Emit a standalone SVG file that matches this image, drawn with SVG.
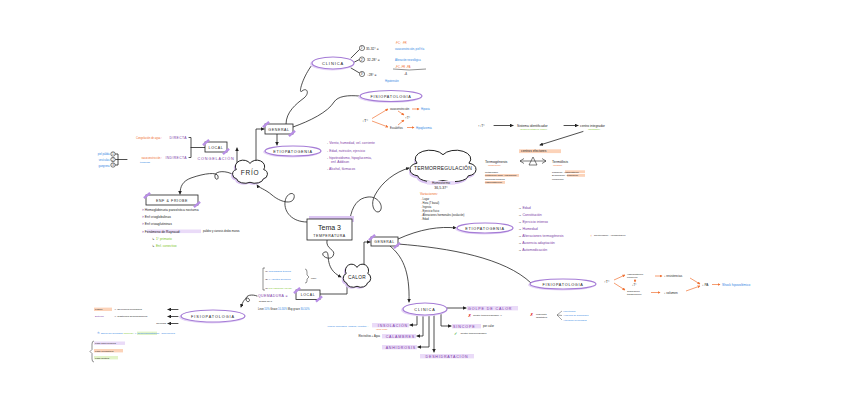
<svg xmlns="http://www.w3.org/2000/svg" width="848" height="402" viewBox="0 0 848 402">
<defs>
<style>
text{font-family:"Liberation Sans",Arial,sans-serif;fill:#222}
.s{font-size:3.3px}
.xs{font-size:2.6px}
.m{font-size:3.8px}
.lab{font-size:4px;letter-spacing:.9px}
.pu{fill:#7b3aa6}
.or{fill:#ef6b2a}
.bl{fill:#2b7fe3}
.gr{fill:#79c51c}
.rd{fill:#e0262b}
.c{text-anchor:middle}
.e{text-anchor:end}
.conn{fill:none;stroke:#222;stroke-width:.8;stroke-linecap:round}
.oc{fill:none;stroke:#f07234;stroke-width:.7}
.oval{fill:#fff;stroke:#a57cd6;stroke-width:1.2}
.ovs{fill:#e6d6f7}
.box{fill:#fff;stroke:#222;stroke-width:.8}
.tape{fill:#b88ee6}
.hlo{fill:#fcd3b9}
.hlp{fill:#eadbf8}
.hlg{fill:#e2f4c8}
.cloud{fill:#fff;stroke:#222;stroke-width:1}
.cls{fill:#d9c2f2}
</style>
<marker id="ah" viewBox="0 0 6 6" refX="5" refY="3" markerUnits="userSpaceOnUse" markerWidth="3.6" markerHeight="3.6" orient="auto-start-reverse"><path d="M0,0 L6,3 L0,6 Z" fill="#222"/></marker>
<marker id="aho" viewBox="0 0 6 6" refX="5" refY="3" markerUnits="userSpaceOnUse" markerWidth="3" markerHeight="3" orient="auto"><path d="M0,0 L6,3 L0,6 Z" fill="#f07234"/></marker>
</defs>
<rect width="848" height="402" fill="#fff"/>

<g id="connectors">
<path class="conn" marker-end="url(#ah)" d="M307,222 C292,222 284,212 285,202 C286,192 296,191 294,198 C292,205 280,202 272,195 C265,189 259,188 257,185"/>
<path class="conn" marker-end="url(#ah)" d="M350,219 C352,206 358,198 368,197 C378,196 384,206 380,211 C376,215 369,206 375,195 C382,182 395,172 409,168"/>
<path class="conn" marker-end="url(#ah)" d="M327,240 C325,250 337,249 333,256 C329,262 318,254 325,252 C332,250 322,268 341,277"/>
<path class="conn" marker-end="url(#ah)" d="M364,265 V242 H370"/>
<path class="conn" marker-end="url(#ah)" d="M398,239 C420,229 440,226 456,228"/>
<path class="conn" d="M398,244 C450,248 505,258 531,283"/>
<path class="conn" marker-end="url(#ah)" d="M390,246 C402,256 410,270 409,302"/>
<path class="conn" d="M347,286 V294 H320"/>
<path class="conn" marker-end="url(#ah)" d="M257,296 C252,294 246,295 246,299 C246,303 251,302 249,299 C247,296 243,300 241,307"/>
<path class="conn" marker-end="url(#ah)" d="M256,163 V129 H264"/>
<path class="conn" marker-end="url(#ah)" d="M237,165 V148"/>
<path class="conn" marker-end="url(#ah)" d="M234,175 C226,170 216,171 215,175 C214,180 219,181 218,176 C217,172 205,173 191,178 C183,181 180,186 180,194"/>
<path class="conn" d="M286,124 C286,112 296,104 304,98 C310,93 307,87 302,91 C298,95 302,78 312,65"/>
<path class="conn" d="M293,127 C310,121 328,112 334,102 C338,96 348,95 359,96"/>
<path class="conn" marker-end="url(#ah)" d="M277,134 V145"/>
<path class="conn" d="M189,137.5 H191 V157.5 H189 M191,147.5 H205"/>
<path class="conn" d="M115.5,154 H118 V165 H115.5 M115.5,159.5 H127"/>
<path class="conn" d="M351,58 L359.5,49.5 M354.5,62 L359.5,59.5 M351,68 L359.5,73"/>
<path class="conn" marker-end="url(#ah)" d="M447,308 H466"/>
<path class="conn" marker-end="url(#ah)" d="M441,314 V326 H451"/>
<path class="conn" marker-end="url(#ah)" d="M417,315 V325 H410"/>
<path class="conn" marker-end="url(#ah)" d="M423,315 V336 H417"/>
<path class="conn" marker-end="url(#ah)" d="M429,315 V347 H418"/>
<path class="conn" marker-end="url(#ah)" d="M434,315 V352"/>
</g>

<g id="tema">
<rect x="309" y="216" width="45" height="6" fill="#dcc6f3"/>
<rect class="box" x="307" y="219" width="45" height="21"/>
<text x="329.5" y="229.5" class="c" style="font-size:7px">Tema 3</text>
<text x="329.5" y="236.5" class="c" style="font-size:3.6px;letter-spacing:.5px">TEMPERATURA</text>
</g>

<g id="frio">
<path class="cls" vector-effect="non-scaling-stroke" transform="translate(229.5,161.5) scale(0.38,0.343)" d="M15,55 A14,14 0 0 1 14,28 A20,18 0 0 1 50,10 A20,18 0 0 1 86,28 A14,14 0 0 1 85,55 A22,14 0 0 1 50,65 A22,14 0 0 1 15,55 Z"/>
<path class="cloud" vector-effect="non-scaling-stroke" transform="translate(231,160) scale(0.38,0.343)" d="M15,55 A14,14 0 0 1 14,28 A20,18 0 0 1 50,10 A20,18 0 0 1 86,28 A14,14 0 0 1 85,55 A22,14 0 0 1 50,65 A22,14 0 0 1 15,55 Z"/>
<text x="250" y="175" class="c" style="font-size:6.5px;letter-spacing:.8px">FRÍO</text>
</g>

<g id="termorregulacion">
<path class="cls" vector-effect="non-scaling-stroke" transform="translate(406,152.5) scale(0.72,0.47)" d="M15,55 A14,14 0 0 1 14,28 A20,18 0 0 1 50,10 A20,18 0 0 1 86,28 A14,14 0 0 1 85,55 A22,14 0 0 1 50,65 A22,14 0 0 1 15,55 Z"/>
<path class="cloud" vector-effect="non-scaling-stroke" transform="translate(407,150) scale(0.72,0.47)" d="M15,55 A14,14 0 0 1 14,28 A20,18 0 0 1 50,10 A20,18 0 0 1 86,28 A14,14 0 0 1 85,55 A22,14 0 0 1 50,65 A22,14 0 0 1 15,55 Z"/>
<text x="443" y="170" class="c" style="font-size:5px;letter-spacing:.2px">TERMORREGULACIÓN</text>
<rect class="hlp" x="427" y="181" width="28" height="3.6"/>
<text x="441" y="184" class="c" style="font-size:3.1px">Homeotermo</text>
<text x="441" y="189" class="c" style="font-size:3.5px">36,5-37°</text>
<text x="420" y="194.5" class="s or">Variaciones:</text>
<g class="xs">
<text x="421" y="199.5"><tspan class="or">- </tspan>Lugar</text>
<text x="421" y="203.5"><tspan class="or">- </tspan>Hora (T basal)</text>
<text x="421" y="207.5"><tspan class="or">- </tspan>Ingesta</text>
<text x="421" y="211.5"><tspan class="or">- </tspan>Ejercicio físico</text>
<text x="421" y="215.5"><tspan class="or">- </tspan>Alteraciones hormonales (ovulación)</text>
<text x="421" y="219.5"><tspan class="or">- </tspan>Edad</text>
</g>
</g>

<g id="calor">
<path class="cls" vector-effect="non-scaling-stroke" transform="translate(340.5,265.5) scale(0.30,0.343)" d="M15,55 A14,14 0 0 1 14,28 A20,18 0 0 1 50,10 A20,18 0 0 1 86,28 A14,14 0 0 1 85,55 A22,14 0 0 1 50,65 A22,14 0 0 1 15,55 Z"/>
<path class="cloud" vector-effect="non-scaling-stroke" transform="translate(342,264) scale(0.30,0.343)" d="M15,55 A14,14 0 0 1 14,28 A20,18 0 0 1 50,10 A20,18 0 0 1 86,28 A14,14 0 0 1 85,55 A22,14 0 0 1 50,65 A22,14 0 0 1 15,55 Z"/>
<text x="357" y="279" class="c" style="font-size:4.8px;letter-spacing:.3px">CALOR</text>
</g>

<g id="general-frio">
<rect class="box" x="265" y="124" width="28" height="10"/>
<rect class="tape" x="-4" y="-1.2" width="8" height="2.4" transform="translate(266,124.5) rotate(-40)"/>
<rect class="tape" x="-4" y="-1.2" width="8" height="2.4" transform="translate(292,133.5) rotate(-40)"/>
<text x="279" y="130.5" class="c" style="font-size:3.6px;letter-spacing:.6px">GENERAL</text>
</g>

<g id="clinica-frio">
<ellipse class="ovs" cx="332" cy="64" rx="22" ry="6.5"/>
<ellipse class="oval" cx="333" cy="63" rx="21" ry="6"/>
<text x="333" y="64.5" class="c lab">CLÍNICA</text>
<circle cx="362" cy="48" r="2.6" fill="#fff" stroke="#222" stroke-width=".6"/>
<text x="362" y="49.1" class="c" style="font-size:2.8px">1°</text>
<circle cx="362" cy="59.5" r="2.6" fill="#fff" stroke="#222" stroke-width=".6"/>
<text x="362" y="60.6" class="c" style="font-size:2.8px">2°</text>
<circle cx="362" cy="74" r="2.6" fill="#fff" stroke="#222" stroke-width=".6"/>
<text x="362" y="75.1" class="c" style="font-size:2.8px">3°</text>
<text x="366" y="50" class="s">35-32° =</text>
<text x="395" y="43.5" class="xs or">↑FC ; ↑FR</text>
<text x="395" y="50" class="xs bl">vasoconstricción, piel fría</text>
<text x="367" y="61" class="s">32-28° =</text>
<text x="395" y="60.5" class="xs bl">Alteración neurológica</text>
<text x="395" y="67.5" class="xs or">↓FC  ↓FR  ↓PA</text>
<path d="M393,69 Q409,71 426,69" fill="none" stroke="#222" stroke-width=".5"/>
<text x="404" y="74.5" class="xs">↓Δ</text>
<text x="367" y="75.5" class="s">↓28° =</text>
<text x="385" y="81.5" class="xs bl">Hipotensión</text>
</g>

<g id="fisiopatologia-frio">
<ellipse class="ovs" cx="390" cy="97" rx="32" ry="6"/>
<ellipse class="oval" cx="391" cy="96" rx="31" ry="5.5"/>
<text x="391" y="97.5" class="c lab" style="font-size:3.8px;letter-spacing:.7px">FISIOPATOLOGÍA</text>
<text x="362" y="122" style="font-size:4px">↓T°</text>
<path class="oc" marker-end="url(#aho)" d="M372,118.5 L388,109"/>
<path class="oc" marker-end="url(#aho)" d="M372,121 L388,127"/>
<text x="390" y="110" class="xs">vasoconstricción</text>
<path class="oc" marker-end="url(#aho)" d="M412,109 H419"/>
<text x="421" y="110" class="xs bl">Hipoxia</text>
<path class="oc" marker-end="url(#aho)" d="M398,111 L404,115"/>
<path class="oc" marker-end="url(#aho)" d="M398,125 L404,120"/>
<text x="405" y="118.5" style="font-size:3.3px">↑T°</text>
<text x="390" y="128.5" class="xs">Escalofríos</text>
<path class="oc" marker-end="url(#aho)" d="M407,127.5 H414"/>
<text x="416" y="128.5" class="xs bl">Hipoglucemia</text>
</g>

<g id="etiopatogenia-frio">
<ellipse class="ovs" cx="292" cy="152" rx="29" ry="5.5"/>
<ellipse class="oval" cx="293" cy="151" rx="28" ry="5"/>
<text x="293" y="152.5" class="c lab" style="font-size:3.8px;letter-spacing:.7px">ETIOPATOGENIA</text>
<g class="s">
<text x="325" y="144">→ <tspan class="pu">Viento, humedad, vel. corriente</tspan></text>
<text x="325" y="151.5">→ <tspan class="pu">Edad, nutrición, ejercicio</tspan></text>
<text x="325" y="158.5">→ <tspan class="pu">hipotiroidismo, hipoglucemia,</tspan></text>
<text x="331" y="162.5" class="pu">enf. Addison</text>
<text x="325" y="170">→ <tspan class="pu">Alcohol, fármacos</tspan></text>
</g>
</g>

<g id="local-frio">
<rect class="box" x="205" y="142" width="22" height="10"/>
<rect class="tape" x="-4" y="-1.2" width="8" height="2.4" transform="translate(206,142.5) rotate(-40)"/>
<rect class="tape" x="-4" y="-1.2" width="8" height="2.4" transform="translate(226,151.5) rotate(-40)"/>
<text x="216" y="148.5" class="c" style="font-size:3.6px;letter-spacing:.6px">LOCAL</text>
<text x="216" y="159.5" class="c pu" style="font-size:3.8px;letter-spacing:.8px">CONGELACIÓN</text>
<text x="187" y="139" class="e pu" style="font-size:3.4px;letter-spacing:.4px">DIRECTA</text>
<text x="187" y="159" class="e pu" style="font-size:3.4px;letter-spacing:.4px">INDIRECTA</text>
<text x="162" y="138.5" class="e xs or">Congelación de agua :</text>
<text x="162" y="158.5" class="e xs or">vasoconstricción :</text>
<text x="145" y="162.5" class="c bl" style="font-size:2.3px">trombosis</text>
<circle cx="113" cy="154" r="2.2" fill="#fff" stroke="#222" stroke-width=".6"/>
<text x="113" y="155" class="c" style="font-size:2.6px">1</text>
<circle cx="113" cy="159.5" r="2.2" fill="#fff" stroke="#222" stroke-width=".6"/>
<text x="113" y="160.5" class="c" style="font-size:2.6px">2</text>
<circle cx="113" cy="165" r="2.2" fill="#fff" stroke="#222" stroke-width=".6"/>
<text x="113" y="166" class="c" style="font-size:2.6px">3</text>
<text x="109.5" y="155" class="e xs bl">piel pálida</text>
<text x="109.5" y="160.5" class="e xs bl">vesículas</text>
<text x="109.5" y="167" class="e xs bl">gangrena</text>
</g>

<g id="enf-frio">
<rect class="box" x="146" y="195" width="52" height="10"/>
<rect class="tape" x="-4" y="-1.2" width="8" height="2.4" transform="translate(147,195.5) rotate(-40)"/>
<rect class="tape" x="-4" y="-1.2" width="8" height="2.4" transform="translate(197,204.5) rotate(-40)"/>
<text x="172" y="201.5" class="c" style="font-size:3.6px;letter-spacing:.6px">ENF &amp; FRIOBE</text>
<rect class="hlp" x="147" y="229.5" width="54" height="3.6"/>
<g class="s">
<text x="142" y="210.5"><tspan class="pu">&gt; </tspan>Hemoglobinuria paroxística nocturna</text>
<text x="142" y="217.5"><tspan class="pu">&gt; </tspan>Enf crioglobulinas</text>
<text x="142" y="224.5"><tspan class="pu">&gt; </tspan>Enf crioaglutininas</text>
<text x="142" y="232.5"><tspan class="pu">&gt; </tspan>Fenómeno de Raynaud:</text>
<text x="152" y="239.5">↳ <tspan class="gr">1° primario</tspan></text>
<text x="152" y="246.5">↳ <tspan class="gr">Enf. conectivo</tspan></text>
</g>
<text x="203" y="232.3" class="xs">palidez y cianosis dedos manos</text>
</g>

<g id="sistema">
<text x="478" y="126.5" style="font-size:3.3px">↑↓T°</text>
<path class="conn" marker-end="url(#ah)" d="M494,125.5 H513"/>
<text x="517" y="126.5" class="s">Sistema identificador</text>
<text x="520" y="130" class="gr" style="font-size:2.2px">(sensores cutáneos, tronco)</text>
<path class="conn" marker-end="url(#ah)" d="M564,125.5 H578"/>
<text x="580" y="126.5" class="s">centro integrador</text>
<text x="588" y="130" class="gr" style="font-size:2.2px">(hipotálamo)</text>
<path class="conn" marker-end="url(#ah)" d="M583,131.5 L540,145"/>
<rect class="hlo" x="519" y="149.3" width="42" height="3.8"/>
<text x="521" y="152.3" class="s">centros efectores</text>
<text x="485" y="162.5" style="font-size:3.6px">Termogénesis</text>
<text x="488" y="166" class="or" style="font-size:2.3px">(producción)</text>
<path d="M533,157 L529,165 L537,165 Z" fill="#fff" stroke="#222" stroke-width=".6"/>
<path d="M520,161 L546,161 M520,161 L524,158.5 M520,161 L524,163.5 M546,161 L542,158.5 M546,161 L542,163.5" fill="none" stroke="#222" stroke-width=".6"/>
<text x="552" y="162.5" style="font-size:3.6px">Termólisis</text>
<text x="553" y="166" class="or" style="font-size:2.3px">(pérdida)</text>
<rect class="hlo" x="485" y="174" width="34" height="2.8"/>
<rect class="hlo" x="485" y="181" width="20" height="2.8"/>
<rect class="hlo" x="565" y="170.3" width="20" height="2.8"/>
<rect class="hlo" x="567" y="174" width="18" height="2.8"/>
<g style="font-size:2.3px">
<text x="485" y="172.5">metabolismo</text>
<text x="485" y="176.2">contracción musc. (escalofríos)</text>
<text x="485" y="179.7">hormonas tiroideas</text>
<text x="485" y="183.2">vasoconstricción</text>
<text x="552" y="172.5">Radiación - vasodilatación</text>
<text x="552" y="176.2">Evaporación - sudoración</text>
<text x="552" y="179.7">conducción</text>
</g>
</g>

<g id="general-calor">
<rect class="box" x="371" y="237" width="27" height="9"/>
<rect class="tape" x="-4" y="-1.2" width="8" height="2.4" transform="translate(372,237.5) rotate(-40)"/>
<rect class="tape" x="-4" y="-1.2" width="8" height="2.4" transform="translate(397,245.5) rotate(-40)"/>
<text x="384.5" y="243" class="c" style="font-size:3.4px;letter-spacing:.6px">GENERAL</text>
</g>

<g id="etiopatogenia-calor">
<ellipse class="ovs" cx="484" cy="229" rx="29" ry="5.5"/>
<ellipse class="oval" cx="485" cy="228" rx="28" ry="5"/>
<text x="485" y="229.5" class="c lab" style="font-size:3.8px;letter-spacing:.7px">ETIOPATOGENIA</text>
<g style="font-size:3.5px">
<text x="518" y="208.5">→  <tspan class="pu">Edad</tspan></text>
<text x="518" y="215.5">→  <tspan class="pu">Constitución</tspan></text>
<text x="518" y="222.5">→  <tspan class="pu">Ejercicio intenso</tspan></text>
<text x="518" y="229.5">→  <tspan class="pu">Humedad</tspan></text>
<text x="518" y="236.5">→  <tspan class="pu">Alteraciones  termogénesis</tspan></text>
<text x="518" y="243.5">→  <tspan class="pu">Ausencia  adaptación</tspan></text>
<text x="518" y="250.5">→  <tspan class="pu">Automedicación</tspan></text>
</g>
<text x="590" y="236.8" class="or" style="font-size:4px">↑</text>
<text x="594" y="236.3" style="font-size:2.2px">hipertiroidismo, ↑ deshidratación</text>
</g>

<g id="fisiopatologia-calor">
<ellipse class="ovs" cx="562" cy="285" rx="34" ry="5.5"/>
<ellipse class="oval" cx="563" cy="284" rx="33" ry="5"/>
<text x="563" y="285.5" class="c lab" style="font-size:3.8px;letter-spacing:.7px">FISIOPATOLOGÍA</text>
<text x="604" y="283" style="font-size:3.6px">↑T°</text>
<path class="oc" marker-end="url(#aho)" d="M614,280 L625,275"/>
<path class="oc" marker-end="url(#aho)" d="M614,283 L625,290"/>
<text x="627" y="274.5" style="font-size:2.5px">Vasodilatación</text>
<text x="627" y="277.8" style="font-size:2.5px">periférica</text>
<path class="oc" marker-end="url(#aho)" d="M635,279 L635,282"/>
<text x="632" y="286" style="font-size:3px">↓T°</text>
<text x="627" y="291.5" style="font-size:2.5px">Sudoración</text>
<text x="627" y="294.8" style="font-size:2.5px">transpiración</text>
<path class="oc" marker-end="url(#aho)" d="M655,276 H662"/>
<text x="664" y="277" style="font-size:3px">↓ resistencias</text>
<path class="oc" marker-end="url(#aho)" d="M651,292.5 H660"/>
<text x="664" y="293.5" style="font-size:3px">↓ volumen</text>
<path class="oc" marker-end="url(#aho)" d="M690,278 L700,284"/>
<path class="oc" marker-end="url(#aho)" d="M686,291 L700,286"/>
<text x="702" y="286" style="font-size:3.2px">↓ PA</text>
<path class="oc" marker-end="url(#aho)" d="M712,284.5 H720"/>
<text x="722" y="286" class="bl" style="font-size:3.2px">Shock hipovolémico</text>
</g>

<g id="clinica-calor">
<ellipse class="ovs" cx="424" cy="310" rx="23" ry="6.5"/>
<ellipse class="oval" cx="425" cy="309" rx="22" ry="6"/>
<text x="425" y="310.5" class="c lab" style="font-size:3.8px">CLÍNICA</text>
<rect class="hlp" x="467" y="306" width="51" height="4.4"/>
<text x="468" y="309.6" class="pu" style="font-size:3.6px;letter-spacing:.9px">GOLPE DE CALOR</text>
<text x="467.5" y="317" class="rd" style="font-size:4.2px;font-weight:bold">✗</text>
<text x="473" y="316.3" style="font-size:2.5px">Centro termorregulador →</text>
<text x="530" y="316" class="rd" style="font-size:4px;font-weight:bold">✗</text>
<text x="536" y="315" style="font-size:2.4px">respuesta</text>
<text x="536" y="318" style="font-size:2.4px">adaptativa</text>
<path d="M557,315 L562,311 M557,315 L562,315.5 M557,315 L562,320" fill="none" stroke="#222" stroke-width=".4"/>
<text x="563" y="312" class="bl" style="font-size:2.4px">Hipertermia</text>
<text x="563" y="316.2" class="bl" style="font-size:2.4px">Ausencia de sudoración</text>
<text x="563" y="320.8" class="bl" style="font-size:2.4px">Alteración neurológica</text>
<rect class="hlp" x="452" y="324" width="29" height="4.4"/>
<text x="453" y="327.6" class="pu" style="font-size:3.6px;letter-spacing:.9px">SÍNCOPE</text>
<text x="483" y="327.4" style="font-size:2.8px">por calor</text>
<text x="453.5" y="335.2" style="font-size:4.2px;fill:#3cb043;font-weight:bold">✓</text>
<text x="460.5" y="334.4" style="font-size:2.5px">Centro termorregulador</text>
<rect class="hlp" x="372" y="323" width="37" height="4.4"/>
<text x="408" y="326.6" class="e pu" style="font-size:3.6px;letter-spacing:.8px">INSOLACIÓN</text>
<text x="376" y="330.2" class="or" style="font-size:2.1px">(golpe solar)</text>
<text x="369" y="326.8" class="e bl" style="font-size:2.5px">Lesión meníngea, cefalea, vómitos ...</text>
<rect class="hlp" x="382" y="334" width="34" height="4.4"/>
<text x="415" y="337.6" class="e pu" style="font-size:3.6px;letter-spacing:.8px">CALAMBRES</text>
<text x="380" y="337.3" class="e" style="font-size:2.6px">Electrolitos + Agua</text>
<rect class="hlp" x="382" y="345" width="35" height="4.4"/>
<text x="416" y="348.6" class="e pu" style="font-size:3.6px;letter-spacing:.8px">ANHIDROSIS</text>
<rect class="hlp" x="420" y="354" width="54" height="4.4"/>
<text x="447" y="357.6" class="c pu" style="font-size:3.6px;letter-spacing:.8px">DESHIDRATACIÓN</text>
</g>

<g id="local-calor">
<rect class="box" x="296" y="290" width="24" height="9.5"/>
<rect class="tape" x="-4" y="-1.2" width="8" height="2.4" transform="translate(297,290.5) rotate(-40)"/>
<rect class="tape" x="-4" y="-1.2" width="8" height="2.4" transform="translate(319,299) rotate(-40)"/>
<text x="308" y="296.3" class="c" style="font-size:3.5px;letter-spacing:.6px">LOCAL</text>
<text x="258" y="297" class="pu" style="font-size:3.5px;letter-spacing:.4px">QUEMADURA =</text>
<text x="259" y="302.3" style="font-size:2.4px">grados del 1°</text>
<path d="M265,268 H263 V290 H265" fill="none" stroke="#222" stroke-width=".5"/>
<text x="265" y="271.5" style="font-size:2.5px">(1) <tspan class="bl">Quemadura térmica</tspan></text>
<text x="265" y="280" style="font-size:2.5px">(2) <tspan class="bl">x Agentes químicos</tspan></text>
<text x="265" y="288.5" style="font-size:2.5px">(3) <tspan class="gr">Por radiación (rayos)</tspan></text>
<path d="M305,269 Q307,269 307,272 V275 L309,277 L307,279 V281 Q307,283 305,283" fill="none" stroke="#222" stroke-width=".5"/>
<text x="311" y="278.5" style="font-size:2.4px">calor</text>
<text x="258" y="309.5" style="font-size:2.6px">Leve <tspan class="bl">10%</tspan>   Grave <tspan class="bl">10-30%</tspan>   Muy grave <tspan class="bl">30-50%</tspan></text>
</g>

<g id="fisiopatologia-quemadura">
<ellipse class="ovs" cx="212" cy="317" rx="33" ry="6.5"/>
<ellipse class="oval" cx="213" cy="316" rx="32" ry="6"/>
<text x="213" y="317.5" class="c lab" style="font-size:3.8px;letter-spacing:.9px">FISIOPATOLOGÍA</text>
<path class="conn" marker-end="url(#ah)" d="M178,309.5 H168"/>
<path class="conn" marker-end="url(#ah)" d="M178,316.5 H168"/>
<path class="conn" marker-end="url(#ah)" d="M178,323.5 H168"/>
<rect class="hlo" x="94" y="307.6" width="18" height="3.4"/>
<text x="95" y="310.3" style="font-size:2.5px">Lesión</text>
<text x="114" y="310.3" style="font-size:2.5px">→ afecciones membrana</text>
<text x="95" y="317.3" class="pu" style="font-size:2.5px">Eritema</text>
<text x="114" y="317.3" style="font-size:2.5px">→ Trastornos hemodinámicos</text>
<text x="166" y="324.3" class="e" style="font-size:2.5px">Necrosis</text>
<rect class="hlg" x="137" y="331.6" width="20" height="3.4"/>
<text x="97" y="334.3" class="bl" style="font-size:2.5px">⑤ Shock del quemado <tspan class="gr">(general)</tspan> → hemoconcentración · hipovolemia</text>
<path d="M94,341 Q92,341 92,344 V349.5 L90,351.5 L92,353.5 V359 Q92,362 94,362" fill="none" stroke="#222" stroke-width=".5"/>
<rect class="hlp" x="94" y="341.5" width="31" height="3.4"/>
<rect class="hlo" x="94" y="349" width="29" height="3.4"/>
<rect class="hlg" x="94" y="356" width="24" height="3.4"/>
<text x="95" y="344.3" style="font-size:2.5px">Fase hipovolémica</text>
<text x="95" y="351.8" style="font-size:2.5px">Fase circulatoria</text>
<text x="95" y="358.8" style="font-size:2.5px">Fase séptica</text>
</g>
</svg>
